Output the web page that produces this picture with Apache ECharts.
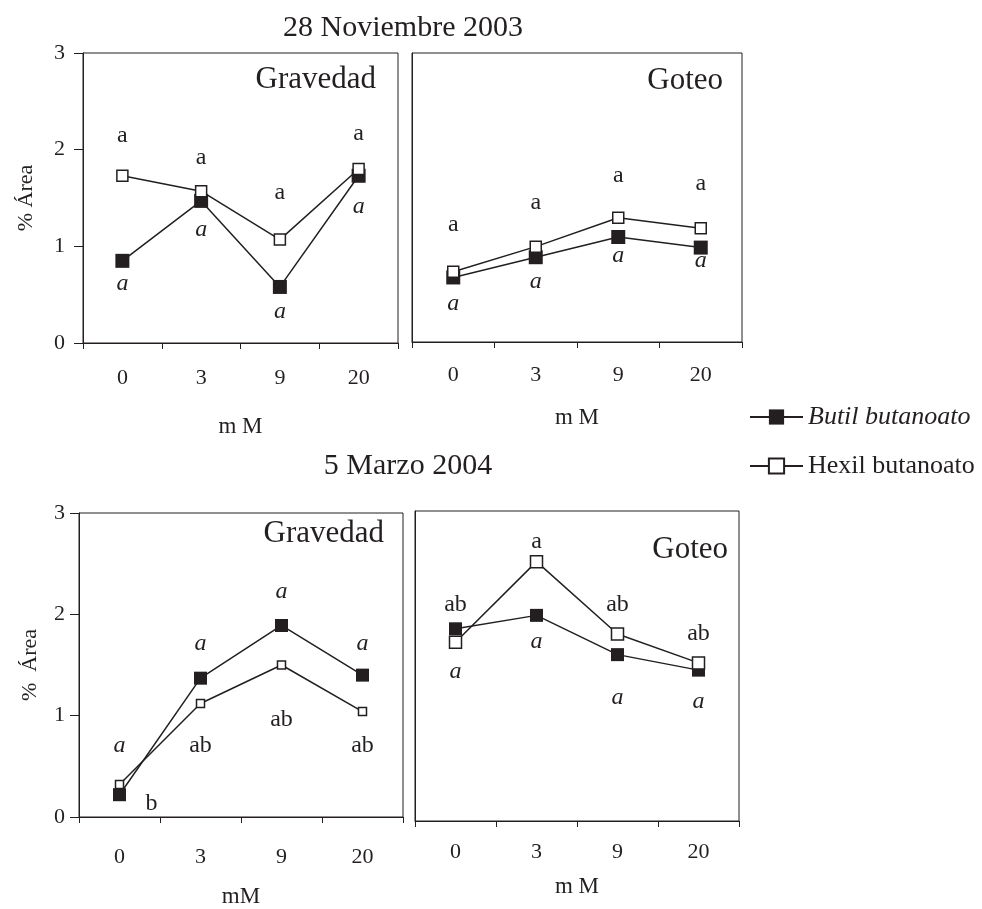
<!DOCTYPE html>
<html>
<head>
<meta charset="utf-8">
<script src="https://cdn.jsdelivr.net/npm/echarts@6/dist/echarts.min.js"></script>
<style>html,body{margin:0;padding:0;background:#fff;}#c{width:982px;height:909px;}</style>
</head>
<body>
<div id="c"></div>
<script>
// ---- data ----
const categories = ['0', '3', '9', '20'];
const yTicks = [0, 1, 2, 3];
const seriesNames = ['Butil butanoato', 'Hexil butanoato'];

// 28 Noviembre 2003
const novGravButil = [0.85, 1.47, 0.58, 1.73];
const novGravHexil = [1.73, 1.57, 1.07, 1.80];
const novGoteoButil = [0.67, 0.88, 1.09, 0.98];
const novGoteoHexil = [0.73, 0.99, 1.29, 1.18];
// 5 Marzo 2004
const marGravButil = [0.22, 1.37, 1.89, 1.40];
const marGravHexil = [0.32, 1.12, 1.50, 1.04];
const marGoteoButil = [1.86, 1.99, 1.61, 1.46];
const marGoteoHexil = [1.73, 2.51, 1.81, 1.53];

// significance letters (italic = Butil, upright = Hexil) and the heights they sit at
const novGravButilLetters = ['a', 'a', 'a', 'a'];
const novGravButilLetterY = [0.63, 1.19, 0.34, 1.43];
const novGravHexilLetters = ['a', 'a', 'a', 'a'];
const novGravHexilLetterY = [2.17, 1.94, 1.58, 2.19];
const novGoteoButilLetters = ['a', 'a', 'a', 'a'];
const novGoteoButilLetterY = [0.42, 0.65, 0.92, 0.87];
const novGoteoHexilLetters = ['a', 'a', 'a', 'a'];
const novGoteoHexilLetterY = [1.24, 1.47, 1.75, 1.66];
const marGravButilLetters = ['a', 'a', 'a', 'a'];
const marGravButilLetterY = [0.72, 1.73, 2.24, 1.73];
const marGravHexilLetters = ['b', 'ab', 'ab', 'ab'];
const marGravHexilLetterY = [0.15, 0.72, 0.98, 0.72];
const marGoteoButilLetters = ['a', 'a', 'a', 'a'];
const marGoteoButilLetterY = [1.46, 1.75, 1.21, 1.17];
const marGoteoHexilLetters = ['ab', 'a', 'ab', 'ab'];
const marGoteoHexilLetterY = [2.11, 2.72, 2.11, 1.83];

// ---- styling ----
const FONT = "'Liberation Serif', 'Times New Roman', serif";
const INK = '#231f20';

const panels = [
  { grid: { left: 83, top: 53, width: 315, height: 290 }, leftLabels: true, labelMargin: 24, xName: 'm M', xNameGap: 72, yName: '% Área', yNameGap: 46, yLabelMargin: 18,
    butil: novGravButil, hexil: novGravHexil, bSize: 14, hSize: 11,
    bL: novGravButilLetters, bLY: novGravButilLetterY, hL: novGravHexilLetters, hLY: novGravHexilLetterY },
  { grid: { left: 412, top: 53, width: 330, height: 289 }, leftLabels: false, labelMargin: 22, xName: 'm M', xNameGap: 64,
    butil: novGoteoButil, hexil: novGoteoHexil, bSize: 14, hSize: 11,
    bL: novGoteoButilLetters, bLY: novGoteoButilLetterY, hL: novGoteoHexilLetters, hLY: novGoteoHexilLetterY },
  { grid: { left: 79, top: 513, width: 324, height: 305 }, leftLabels: true, labelMargin: 29, xName: 'mM', xNameGap: 68, yName: '%  Área', yNameGap: 38, yLabelMargin: 14,
    butil: marGravButil, hexil: marGravHexil, bSize: 13, hSize: 8,
    bL: marGravButilLetters, bLY: marGravButilLetterY, hL: marGravHexilLetters, hLY: marGravHexilLetterY },
  { grid: { left: 415, top: 511, width: 324, height: 310 }, leftLabels: false, labelMargin: 20, xName: 'm M', xNameGap: 54,
    butil: marGoteoButil, hexil: marGoteoHexil, bSize: 13, hSize: 12,
    bL: marGoteoButilLetters, bLY: marGoteoButilLetterY, hL: marGoteoHexilLetters, hLY: marGoteoHexilLetterY }
];

const grids = [], xAxes = [], yAxes = [], series = [];
panels.forEach((p, i) => {
  grids.push(Object.assign({ show: true, borderColor: INK, borderWidth: 1, backgroundColor: 'transparent', containLabel: false }, p.grid));
  xAxes.push({
    type: 'category', gridIndex: i, data: categories, boundaryGap: true,
    axisLine: { show: true, lineStyle: { color: INK, width: 1 } },
    axisTick: { show: true, inside: false, length: 6, lineStyle: { color: INK } },
    axisLabel: { fontFamily: FONT, fontSize: 22, color: INK, margin: p.labelMargin },
    name: p.xName, nameLocation: 'middle', nameGap: p.xNameGap,
    nameTextStyle: { fontFamily: FONT, fontSize: 23, color: INK },
    splitLine: { show: false }
  });
  yAxes.push({
    type: 'value', gridIndex: i, min: yTicks[0], max: yTicks[yTicks.length - 1], interval: 1,
    axisLine: { show: true, lineStyle: { color: INK, width: 1 } },
    axisTick: { show: p.leftLabels, inside: false, length: 9, lineStyle: { color: INK } },
    axisLabel: { show: p.leftLabels, fontFamily: FONT, fontSize: 22, color: INK, margin: p.yLabelMargin || 8 },
    splitLine: { show: false },
    name: p.yName || '', nameLocation: 'middle', nameGap: p.yNameGap || 0, nameRotate: 90,
    nameTextStyle: { fontFamily: FONT, fontSize: 22, color: INK }
  });
  const letterSeries = (letters, ys, italic, offsets) => ({
    type: 'scatter', xAxisIndex: i, yAxisIndex: i, symbolSize: 0, silent: true, z: 1,
    name: 'letters' + i + (italic ? 'i' : 'u'),
    itemStyle: { opacity: 1, color: INK },
    data: letters.map((t, k) => {
      const item = { value: [k, ys[k]], name: t };
      if (offsets && offsets[k]) item.label = { offset: offsets[k] };
      return item;
    }),
    label: { show: true, position: 'inside', formatter: '{b}', fontFamily: FONT, fontSize: 24, opacity: 1,
      textBorderWidth: 0, textShadowBlur: 0, offset: [0, 2],
      fontStyle: italic ? 'italic' : 'normal', color: INK, verticalAlign: 'middle', align: 'center' },
    emphasis: { disabled: true }
  });
  series.push(letterSeries(p.bL, p.bLY, true));
  // bottom-left "b" sits to the right of its point
  series.push(letterSeries(p.hL, p.hLY, false, i === 2 ? [[32, 2]] : null));
  series.push({
    type: 'line', name: seriesNames[0], xAxisIndex: i, yAxisIndex: i, data: p.butil, z: 3,
    symbol: 'rect', symbolSize: p.bSize, showAllSymbol: true,
    lineStyle: { color: INK, width: 1.5 }, itemStyle: { color: INK, borderColor: INK, borderWidth: 0 },
    emphasis: { disabled: true }
  });
  series.push({
    type: 'line', name: seriesNames[1], xAxisIndex: i, yAxisIndex: i, data: p.hexil, z: 4,
    symbol: 'rect', symbolSize: p.hSize, showAllSymbol: true,
    lineStyle: { color: INK, width: 1.5 }, itemStyle: { color: '#fff', borderColor: INK, borderWidth: 1.5 },
    emphasis: { disabled: true }
  });
});

const txt = (text, x, y, size, align) => ({
  type: 'text', x: x, y: y, silent: true,
  style: { text: text, fontFamily: FONT, fontSize: size, fill: INK, textAlign: align || 'center', textVerticalAlign: 'middle' }
});

const option = {
  animation: false,
  backgroundColor: '#fff',
  grid: grids, xAxis: xAxes, yAxis: yAxes, series: series,
  legend: {
    data: seriesNames, orient: 'vertical', left: 749, top: 404, padding: 0,
    itemWidth: 53, itemHeight: 19, itemGap: 23, selectedMode: false,
    formatter: n => (n === seriesNames[0] ? '{i|' + n + '}' : '{n|' + n + '}'),
    textStyle: {
      color: INK,
      rich: {
        i: { fontFamily: FONT, fontSize: 26, fontStyle: 'italic', color: INK, lineHeight: 26 },
        n: { fontFamily: FONT, fontSize: 26, color: INK, lineHeight: 26 }
      }
    }
  },
  graphic: [
    txt('28 Noviembre 2003', 403, 28, 30),
    txt('5 Marzo 2004', 408, 466, 30),
    txt('Gravedad', 376, 80, 31, 'right'),
    txt('Goteo', 723, 81, 31, 'right'),
    txt('Gravedad', 384, 534, 31, 'right'),
    txt('Goteo', 728, 550, 31, 'right')
  ]
};

echarts.init(document.getElementById('c')).setOption(option);
</script>
</body>
</html>
